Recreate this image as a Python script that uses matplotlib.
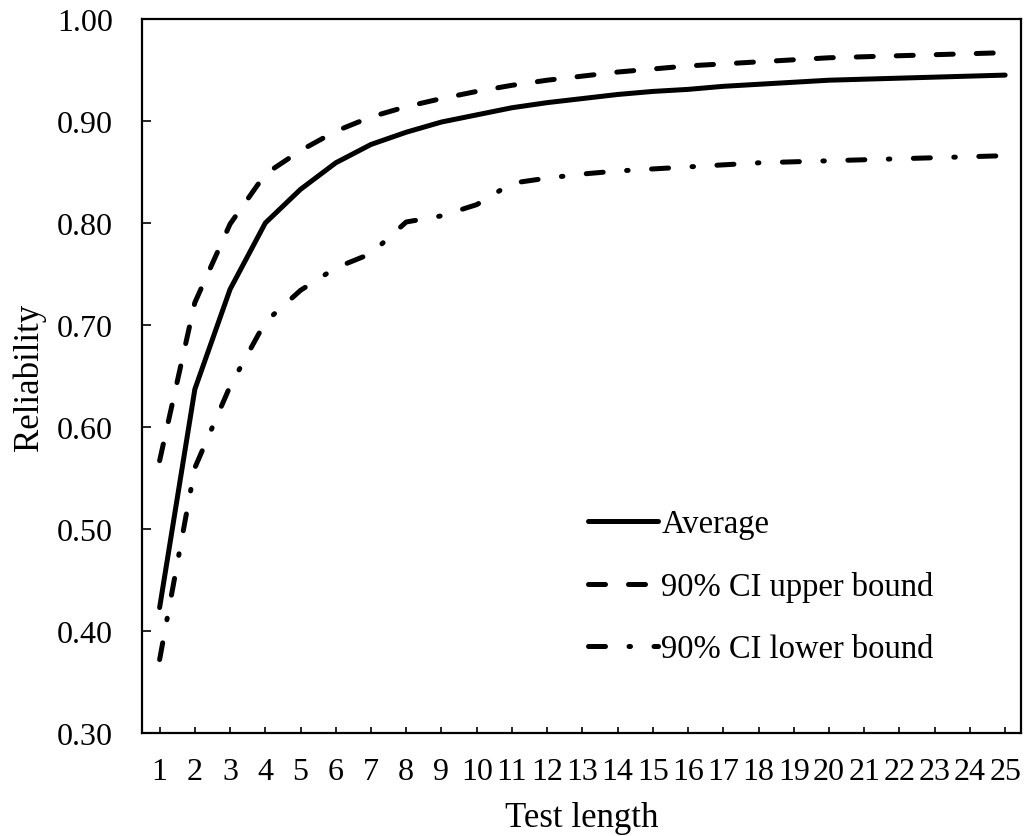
import numpy as np
import matplotlib
matplotlib.use('Agg')
import matplotlib.pyplot as plt

test_length = list(range(1, 26))
average = [0.423, 0.637, 0.735, 0.800, 0.833, 0.859, 0.877, 0.889, 0.899, 0.906,
           0.913, 0.918, 0.922, 0.926, 0.929, 0.931, 0.934, 0.936, 0.938, 0.940,
           0.941, 0.942, 0.943, 0.944, 0.945]
upper = [0.567, 0.722, 0.799, 0.848, 0.871, 0.890, 0.904, 0.914, 0.922, 0.929,
         0.935, 0.940, 0.944, 0.948, 0.951, 0.954, 0.956, 0.958, 0.960, 0.962,
         0.963, 0.964, 0.965, 0.966, 0.967]
lower = [0.372, 0.560, 0.640, 0.703, 0.734, 0.756, 0.770, 0.801, 0.807, 0.818,
         0.839, 0.844, 0.848, 0.851, 0.853, 0.855, 0.857, 0.859, 0.860, 0.861,
         0.862, 0.863, 0.864, 0.865, 0.866]
y_ticks = [0.30, 0.40, 0.50, 0.60, 0.70, 0.80, 0.90, 1.00]

plt.rcParams['font.family'] = ['Liberation Serif', 'DejaVu Serif']

fig = plt.figure(figsize=(10.33, 8.37), dpi=100)
ax = fig.add_axes([142 / 1033, 1 - 734 / 837, (1021 - 142) / 1033, (734 - 20) / 837])

lw = 3.6
ax.plot(test_length, average, color='black', lw=lw, solid_capstyle='round',
        solid_joinstyle='round', label='Average')
ax.plot(test_length, upper, color='black', lw=lw, dash_capstyle='round',
        linestyle=(0, (3.4, 4.6)), label='90% CI upper bound')
ax.plot(test_length, lower, color='black', lw=lw, dash_capstyle='round',
        linestyle=(0, (3.4, 4.7, 0.3, 4.7)), label='90% CI lower bound')

ax.set_xlim(0.5, 25.45)
ax.set_ylim(0.30, 1.00)
ax.set_xticks(test_length)
ax.set_yticks(y_ticks)
ax.set_yticklabels(['%.2f' % v for v in y_ticks])
ax.tick_params(axis='x', direction='in', length=4, width=1.2, pad=17, labelsize=23)
ax.tick_params(axis='y', direction='in', length=6.5, width=1.2, pad=21, labelsize=23)
for s in ax.spines.values():
    s.set_linewidth(1.6)

ax.set_xlabel('Test length', fontsize=25, labelpad=11)
ax.set_ylabel('Reliability', fontsize=25, labelpad=8)

leg = ax.legend(loc='upper left', bbox_to_anchor=(588 / 1033, 1 - 510 / 837),
                bbox_transform=fig.transFigure, frameon=False, fontsize=23.5,
                handlelength=2.15, handletextpad=0.1, borderpad=0, borderaxespad=0,
                labelspacing=0.97)

plt.savefig('out.png', dpi=100)
plt.close()
